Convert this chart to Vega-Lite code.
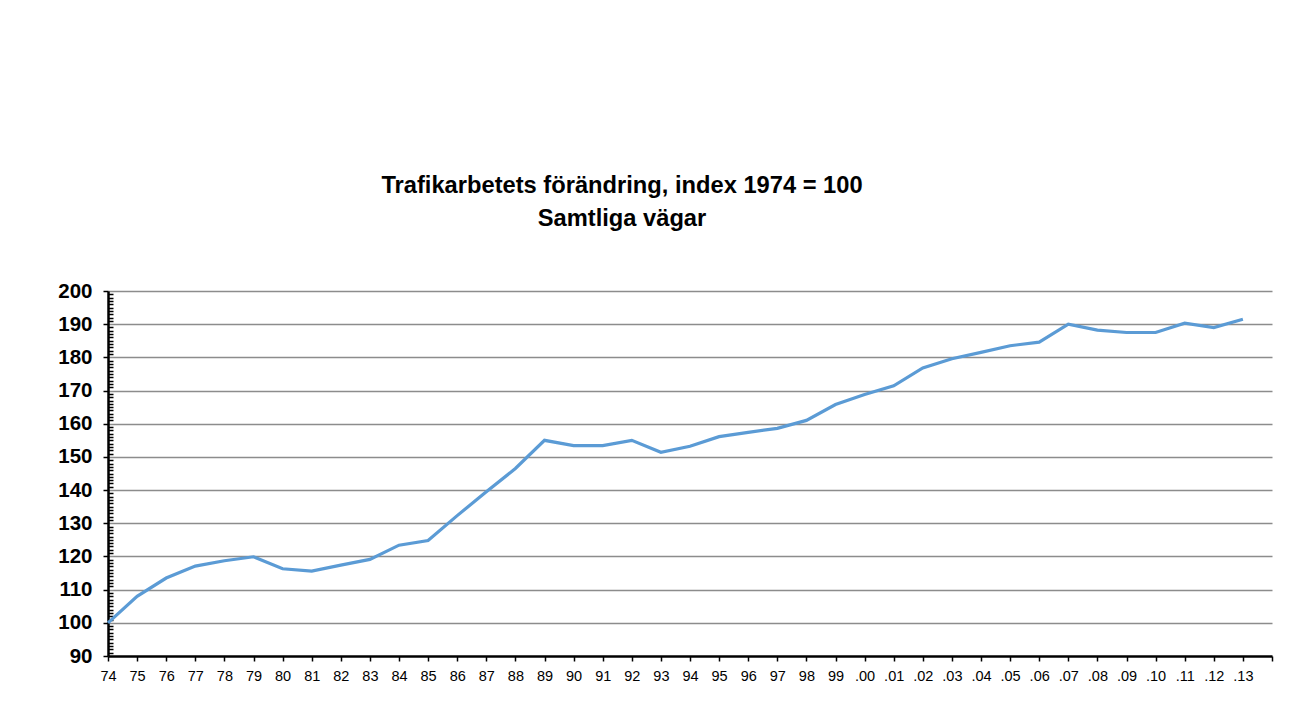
{
  "$schema": "https://vega.github.io/schema/vega-lite/v6.json",
  "autosize": "none",
  "width": 1164,
  "height": 365,
  "padding": {"left": 108, "top": 291, "right": 39, "bottom": 46},
  "background": "white",
  "title": {
    "text": ["Trafikarbetets förändring, index 1974 = 100", "Samtliga vägar"],
    "font": "Liberation Sans",
    "fontSize": 23.7,
    "fontWeight": "bold",
    "color": "#000000",
    "anchor": "middle",
    "dx": -68,
    "offset": 50,
    "lineHeight": 33
  },
  "config": {
    "view": {"stroke": null},
    "axis": {"labelFont": "Liberation Sans", "labelColor": "#000000"}
  },
  "data": {
    "values": [
      {"year": 1974, "index": 100},
      {"year": 1975, "index": 108},
      {"year": 1976, "index": 113.5},
      {"year": 1977, "index": 117.1},
      {"year": 1978, "index": 118.7},
      {"year": 1979, "index": 119.9},
      {"year": 1980, "index": 116.3},
      {"year": 1981, "index": 115.6},
      {"year": 1982, "index": 117.4},
      {"year": 1983, "index": 119.1},
      {"year": 1984, "index": 123.4},
      {"year": 1985, "index": 124.8},
      {"year": 1986, "index": 132.3},
      {"year": 1987, "index": 139.5},
      {"year": 1988, "index": 146.5},
      {"year": 1989, "index": 155},
      {"year": 1990, "index": 153.4},
      {"year": 1991, "index": 153.4},
      {"year": 1992, "index": 155},
      {"year": 1993, "index": 151.4},
      {"year": 1994, "index": 153.2},
      {"year": 1995, "index": 156.1},
      {"year": 1996, "index": 157.4},
      {"year": 1997, "index": 158.6},
      {"year": 1998, "index": 161},
      {"year": 1999, "index": 165.8},
      {"year": 2000, "index": 168.8},
      {"year": 2001, "index": 171.4},
      {"year": 2002, "index": 176.8},
      {"year": 2003, "index": 179.6},
      {"year": 2004, "index": 181.5},
      {"year": 2005, "index": 183.5},
      {"year": 2006, "index": 184.6},
      {"year": 2007, "index": 190},
      {"year": 2008, "index": 188.2},
      {"year": 2009, "index": 187.5},
      {"year": 2010, "index": 187.5},
      {"year": 2011, "index": 190.3},
      {"year": 2012, "index": 189},
      {"year": 2013, "index": 191.5}
    ]
  },
  "mark": {"type": "line", "color": "#5B9BD5", "strokeWidth": 3.2, "clip": false},
  "encoding": {
    "x": {
      "field": "year",
      "type": "quantitative",
      "scale": {"domain": [1974, 2014], "nice": false, "zero": false},
      "axis": {
        "title": null,
        "values": [1974,1975,1976,1977,1978,1979,1980,1981,1982,1983,1984,1985,1986,1987,1988,1989,1990,1991,1992,1993,1994,1995,1996,1997,1998,1999,2000,2001,2002,2003,2004,2005,2006,2007,2008,2009,2010,2011,2012,2013,2014],
        "labelExpr": "datum.value >= 2014 ? '' : (datum.value < 2000 ? toString(datum.value - 1900) : (datum.value < 2010 ? '.0' + toString(datum.value - 2000) : '.' + toString(datum.value - 2000)))",
        "labelFontSize": 14.5,
        "labelPadding": 8,
        "labelOverlap": false,
        "labelBound": false,
        "labelFlush": false,
        "grid": false,
        "domainColor": "#000000",
        "domainWidth": 2.5,
        "tickColor": "#000000",
        "tickWidth": 1.5,
        "tickSize": 5
      }
    },
    "y": {
      "field": "index",
      "type": "quantitative",
      "scale": {"domain": [90, 200], "nice": false, "zero": false},
      "axis": {
        "title": null,
        "values": [90,91,92,93,94,95,96,97,98,99,100,101,102,103,104,105,106,107,108,109,110,111,112,113,114,115,116,117,118,119,120,121,122,123,124,125,126,127,128,129,130,131,132,133,134,135,136,137,138,139,140,141,142,143,144,145,146,147,148,149,150,151,152,153,154,155,156,157,158,159,160,161,162,163,164,165,166,167,168,169,170,171,172,173,174,175,176,177,178,179,180,181,182,183,184,185,186,187,188,189,190,191,192,193,194,195,196,197,198,199,200],
        "labelExpr": "datum.value % 10 === 0 ? toString(datum.value) : ''",
        "labelFontSize": 20.5,
        "labelFontWeight": "bold",
        "labelPadding": 11,
        "labelOverlap": false,
        "labelBound": false,
        "labelFlush": false,
        "grid": true,
        "gridColor": "#8c8c8c",
        "gridWidth": 1.6,
        "gridOpacity": {"condition": {"test": "datum.value % 10 === 0 && datum.value > 90", "value": 1}, "value": 0},
        "domainColor": "#000000",
        "domainWidth": 2.5,
        "tickColor": "#000000",
        "tickWidth": 1.5,
        "tickSize": {"condition": {"test": "datum.value % 10 === 0", "value": 5}, "value": -5}
      }
    }
  }
}
